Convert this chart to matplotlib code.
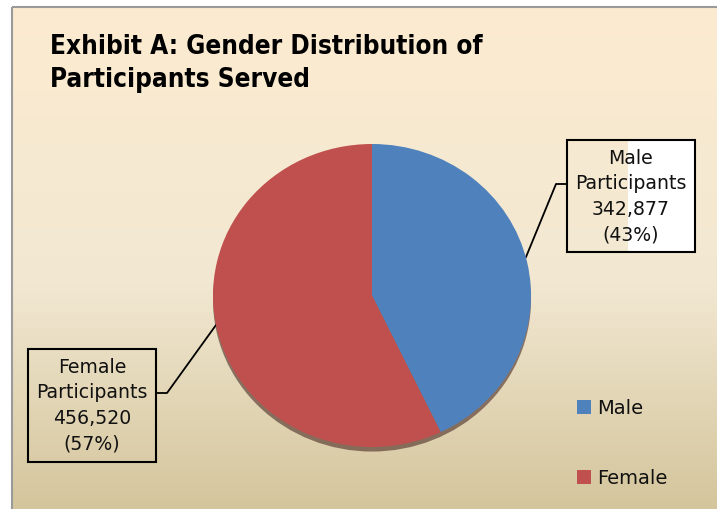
import numpy as np
import matplotlib
matplotlib.use("Agg")
import matplotlib.pyplot as plt
from matplotlib.patches import Rectangle, Ellipse

# data
categories = ['Male', 'Female']
counts = [342877, 456520]
shares = ['43%', '57%']
colors = ['#4F81BD', '#C0504D']

W, H = 717, 510
fig = plt.figure(figsize=(W / 100, H / 100), dpi=100)

# background axes in pixel units (y measured from top)
bg = fig.add_axes([0, 0, 1, 1])
bg.set_xlim(0, W)
bg.set_ylim(H, 0)
bg.axis('off')

# cream -> beige vertical gradient
stops_y = np.array([0.0, 0.55, 1.0])
stops_c = np.array([[252, 235, 208], [242, 232, 210], [212, 197, 156]]) / 255
t = np.linspace(0, 1, 256)
grad = np.stack([np.interp(t, stops_y, stops_c[:, k]) for k in range(3)], axis=1)
grad = np.repeat(grad[:, None, :], 2, axis=1)
bg.imshow(grad, extent=[12, W + 5, H, 8], aspect='auto', zorder=0)
bg.add_patch(Rectangle((12, 8), W, H, fill=False, ec='#9a9a9a', lw=1.5, zorder=1))

font = 'DejaVu Sans'
bg.text(50, 54, 'Exhibit A: Gender Distribution of', fontsize=18.7, fontweight='bold',
        fontstretch='condensed', family=font, va='baseline', ha='left')
bg.text(50, 87, 'Participants Served', fontsize=18.7, fontweight='bold',
        fontstretch='condensed', family=font, va='baseline', ha='left')


def label_box(x0, y0, x1, y1, lines, white_from=None):
    if white_from is not None:
        bg.add_patch(Rectangle((white_from, y0), x1 - white_from, y1 - y0,
                               fc='white', ec='none', zorder=2))
    bg.add_patch(Rectangle((x0, y0), x1 - x0, y1 - y0, fill=False, ec='black',
                           lw=1.5, zorder=3))
    cx = (x0 + x1) / 2
    for i, s in enumerate(lines):
        bg.text(cx, y0 + 23 + i * 25.5, s, fontsize=13.6, family=font,
                ha='center', va='baseline', color='#111111', zorder=4)


label_box(567, 141, 695, 253,
          ['Male', 'Participants', f'{counts[0]:,}', f'({shares[0]})'], white_from=628)
label_box(28, 350, 156, 463,
          ['Female', 'Participants', f'{counts[1]:,}', f'({shares[1]})'])

# leader lines
bg.plot([567, 556, 526], [185, 185, 258], color='black', lw=1.3, zorder=3)
bg.plot([156, 167, 216], [394, 394, 326], color='black', lw=1.3, zorder=3)

# legend
for i, (cat, col) in enumerate(zip(categories, colors)):
    y = 401 + i * 70
    bg.add_patch(Rectangle((577, y), 14, 14, fc=col, ec='none', zorder=3))
    bg.text(597, y + 13.5, cat, fontsize=14, family=font, va='baseline',
            ha='left', color='#111111', zorder=3)

# pie (slightly flattened)
px0, py_top, pw, ph = 213, 145, 318, 303
pie_ax = fig.add_axes([px0 / W, (H - py_top - ph) / H, pw / W, ph / H])
pie_ax.add_patch(Ellipse((0.0, -0.03), 2.0, 2.0, fc='#4a2a25', alpha=0.6,
                         ec='none', zorder=0, clip_on=False))
pie_ax.pie(counts, colors=colors, startangle=90, counterclock=False, radius=1.0,
           wedgeprops=dict(linewidth=0, zorder=1), frame=True)
pie_ax.set_xlim(-1.0, 1.0)
pie_ax.set_ylim(-1.0, 1.0)
pie_ax.set_aspect('auto')
pie_ax.axis('off')

fig.savefig('out.png', dpi=100)
